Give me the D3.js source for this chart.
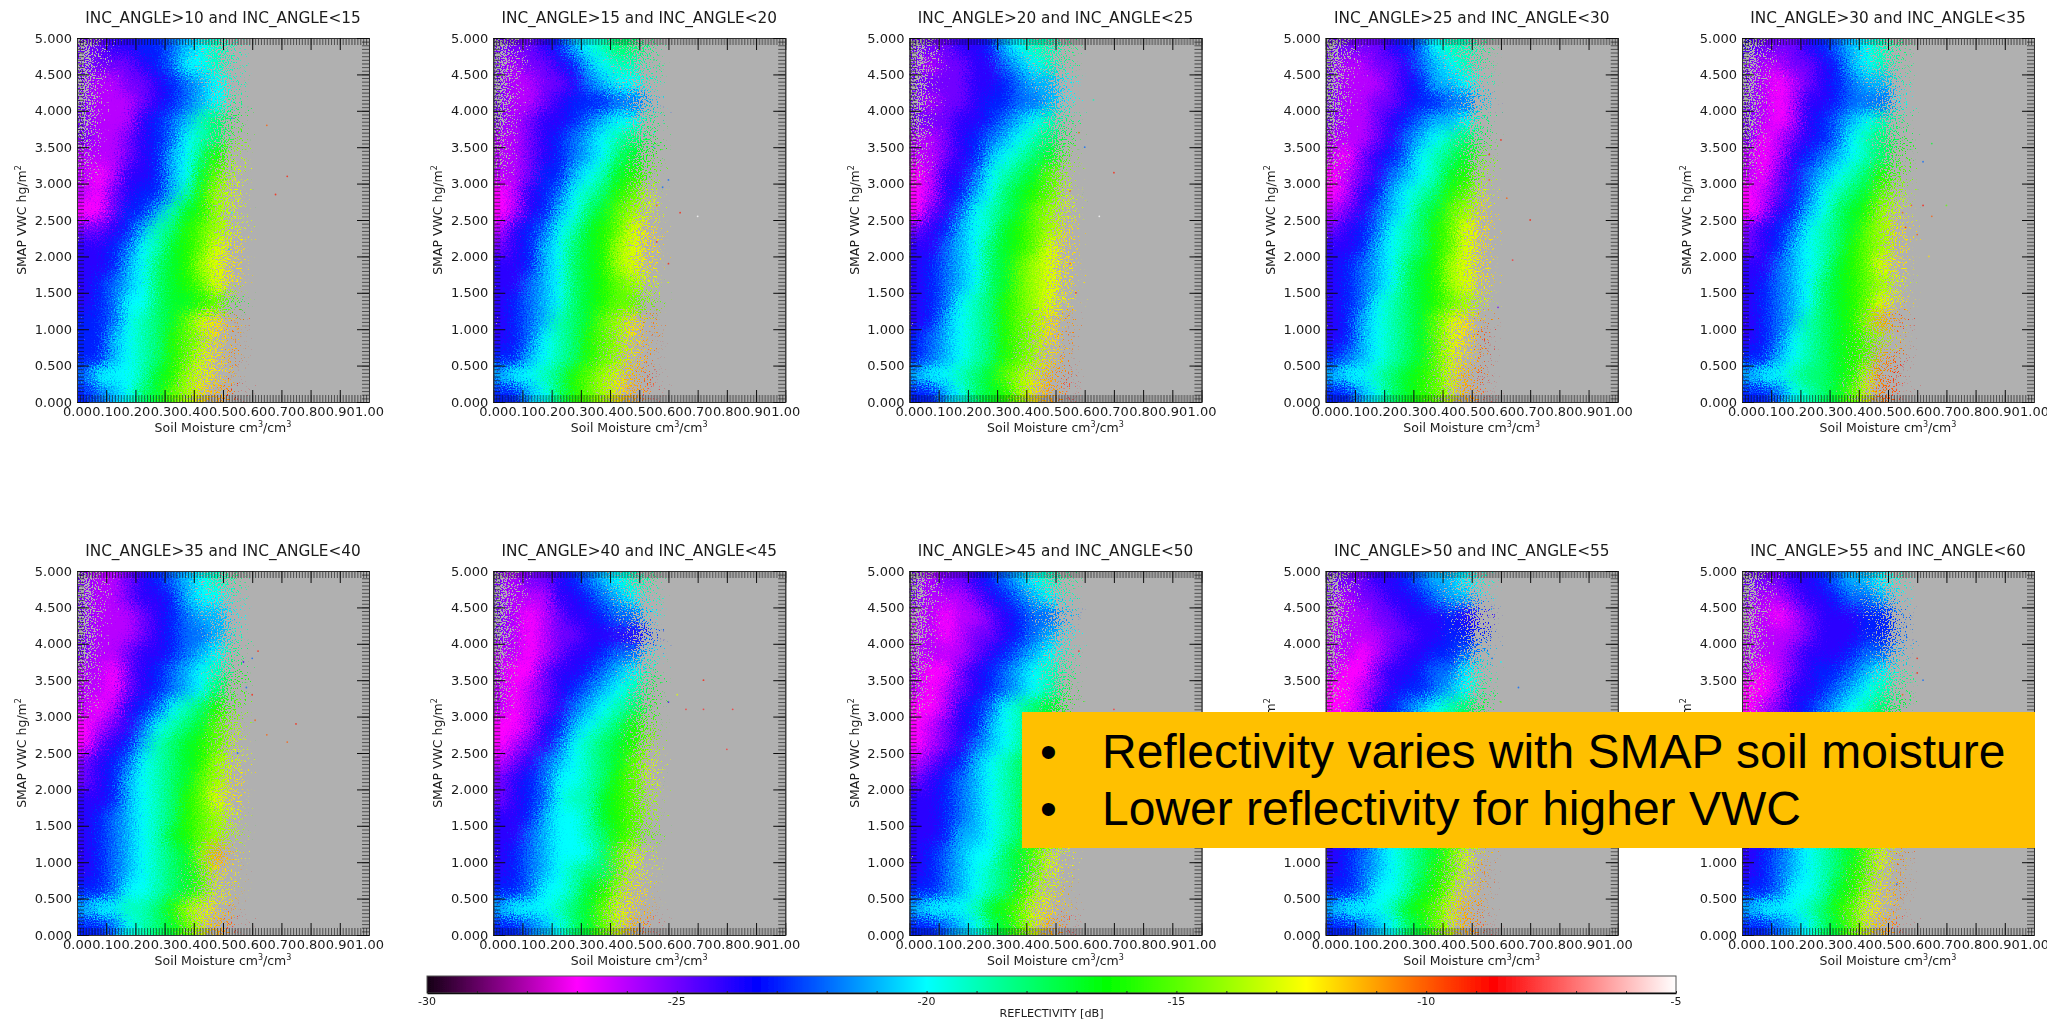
<!DOCTYPE html>
<html>
<head>
<meta charset="utf-8">
<script src="https://cdn.jsdelivr.net/npm/d3@7"></script>
<style>
  html, body { margin: 0; padding: 0; background: #fff; }
  svg { display: block; }
  text { font-family: 'DejaVu Sans', sans-serif; fill: #1a1a1a; }
</style>
</head>
<body>
<svg id="chart" width="2047" height="1020"></svg>
<script>
const panelTitles = [
  'INC_ANGLE>10 and INC_ANGLE<15', 'INC_ANGLE>15 and INC_ANGLE<20', 'INC_ANGLE>20 and INC_ANGLE<25',
  'INC_ANGLE>25 and INC_ANGLE<30', 'INC_ANGLE>30 and INC_ANGLE<35', 'INC_ANGLE>35 and INC_ANGLE<40',
  'INC_ANGLE>40 and INC_ANGLE<45', 'INC_ANGLE>45 and INC_ANGLE<50', 'INC_ANGLE>50 and INC_ANGLE<55',
  'INC_ANGLE>55 and INC_ANGLE<60',
];

// lower edge of each bin; grids below are rows = vwcBins, columns = soilBins
const soilBins = [0, 0.05, 0.1, 0.15, 0.2, 0.25, 0.3, 0.35, 0.4, 0.45, 0.5];
const vwcBins = [4.75, 4.5, 4.25, 4, 3.75, 3.5, 3.25, 3, 2.75, 2.5, 2.25, 2, 1.75, 1.5, 1.25, 1, 0.75, 0.5, 0.25, 0];
const soilTicks = [0, 0.1, 0.2, 0.3, 0.4, 0.5, 0.6, 0.7, 0.8, 0.9, 1];
const vwcTicks = [0, 0.5, 1, 1.5, 2, 2.5, 3, 3.5, 4, 4.5, 5];
const cbarTicks = [-30, -25, -20, -15, -10, -5];

// share of each bin that actually holds samples, same for all panels
const sampleDensity = [
  [.25, .8, 1, 1, 1, 1, 1, 1, .85, .65, .06],
  [.3, .85, 1, 1, 1, 1, 1, 1, .9, .75, .08],
  [.3, .9, 1, 1, 1, 1, 1, 1, .95, .85, .12],
  [.35, .95, 1, 1, 1, 1, 1, 1, 1, .9, .12],
  [.4, 1, 1, 1, 1, 1, 1, 1, 1, .85, .15],
  [.5, 1, 1, 1, 1, 1, 1, 1, 1, .85, .15],
  [.65, 1, 1, 1, 1, 1, 1, 1, 1, .9, .2],
  [.85, 1, 1, 1, 1, 1, 1, 1, 1, .9, .2],
  [1, 1, 1, 1, 1, 1, 1, 1, 1, .9, .25],
  [1, 1, 1, 1, 1, 1, 1, 1, 1, .9, .25],
  [1, 1, 1, 1, 1, 1, 1, 1, 1, .95, .25],
  [1, 1, 1, 1, 1, 1, 1, 1, 1, .95, .25],
  [1, 1, 1, 1, 1, 1, 1, 1, 1, .95, .25],
  [1, 1, 1, 1, 1, 1, 1, 1, 1, .95, .25],
  [1, 1, 1, 1, 1, 1, 1, 1, 1, .9, .15],
  [1, 1, 1, 1, 1, 1, 1, 1, .85, .55, .05],
  [1, 1, 1, 1, 1, 1, 1, .95, .7, .4, .04],
  [1, 1, 1, 1, 1, 1, 1, .95, .65, .3, .03],
  [1, 1, 1, 1, 1, 1, 1, .9, .55, .3, .02],
  [1, 1, 1, 1, 1, 1, 1, .9, .55, .3, .04],
];

const reflect10 = [
  [-25, -25, -24, -24, -23, -23, -22, -21, -20, -19, -19],
  [-25, -25, -25, -25, -24, -23, -22, -20, -20, -19, -19],
  [-25, -26, -26, -25, -25, -24, -23, -22, -21, -20, -19],
  [-25, -26, -26, -26, -25, -24, -23, -22, -21, -20, -18],
  [-25, -26, -26, -26, -24, -23, -22, -21, -19, -18, -17],
  [-25, -26, -26, -25, -24, -23, -22, -20, -19, -18, -15],
  [-26, -26, -26, -25, -24, -23, -21, -20, -18, -16, -14],
  [-26, -27, -26, -24, -24, -23, -21, -20, -17, -15, -13],
  [-26, -27, -25, -24, -23, -23, -21, -19, -16, -14, -13],
  [-27, -27, -25, -23, -23, -21, -19, -17, -16, -14, -13],
  [-25, -25, -24, -23, -21, -19, -18, -16, -15, -14, -13],
  [-24, -24, -23, -22, -20, -19, -17, -16, -15, -13, -12],
  [-24, -24, -23, -21, -20, -18, -17, -16, -14, -13, -12],
  [-24, -23, -22, -21, -20, -18, -17, -16, -15, -13, -12],
  [-24, -23, -22, -20, -20, -18, -17, -17, -16, -15, -17],
  [-23, -23, -22, -20, -19, -18, -17, -15, -13, -12, -10],
  [-23, -23, -21, -20, -19, -18, -16, -15, -14, -12, -10],
  [-23, -23, -21, -20, -19, -18, -16, -15, -13, -12, -10],
  [-22, -20, -20, -20, -19, -17, -16, -14, -13, -12, -10],
  [-23, -22, -21, -20, -18, -17, -15, -14, -12, -11, -9],
];
const reflect15 = [
  [-25, -25, -25, -24, -23, -21, -20, -19, -18, -18, -18],
  [-25, -26, -25, -25, -24, -23, -21, -20, -19, -19, -18],
  [-25, -26, -26, -25, -25, -24, -22, -21, -20, -20, -19],
  [-25, -26, -26, -25, -24, -23, -23, -23, -22, -22, -21],
  [-25, -26, -25, -24, -24, -23, -22, -21, -20, -20, -18],
  [-26, -26, -25, -24, -23, -22, -21, -20, -19, -18, -17],
  [-26, -26, -25, -24, -23, -22, -21, -20, -18, -17, -16],
  [-26, -26, -25, -23, -23, -21, -20, -19, -17, -16, -15],
  [-27, -26, -24, -23, -22, -20, -19, -18, -16, -15, -13],
  [-27, -26, -24, -23, -21, -20, -18, -17, -15, -14, -13],
  [-26, -24, -23, -22, -20, -19, -17, -16, -15, -13, -12],
  [-25, -24, -23, -21, -20, -18, -17, -16, -14, -13, -12],
  [-24, -24, -23, -21, -20, -18, -17, -16, -14, -13, -12],
  [-24, -24, -22, -21, -20, -18, -17, -16, -15, -14, -13],
  [-24, -23, -22, -21, -20, -18, -17, -16, -15, -15, -15],
  [-24, -23, -22, -21, -19, -18, -17, -15, -14, -12, -10],
  [-24, -23, -22, -20, -19, -18, -16, -15, -14, -12, -10],
  [-23, -23, -21, -20, -19, -18, -16, -15, -14, -12, -10],
  [-21, -20, -20, -19, -18, -16, -15, -14, -13, -11, -9],
  [-23, -23, -21, -20, -18, -16, -15, -14, -12, -11, -8],
];
const reflect20 = [
  [-25, -25, -25, -24, -24, -23, -21, -20, -19, -19, -18],
  [-25, -26, -25, -25, -24, -24, -22, -21, -20, -19, -18],
  [-25, -25, -25, -25, -24, -24, -23, -22, -21, -21, -20],
  [-25, -26, -25, -25, -24, -23, -23, -22, -22, -21, -20],
  [-25, -25, -25, -24, -24, -23, -22, -21, -20, -19, -18],
  [-26, -26, -25, -24, -23, -22, -21, -20, -19, -18, -17],
  [-26, -26, -25, -24, -23, -21, -20, -19, -18, -17, -15],
  [-27, -26, -24, -24, -22, -20, -19, -18, -17, -15, -14],
  [-27, -26, -24, -23, -21, -20, -18, -17, -16, -15, -13],
  [-27, -25, -24, -22, -20, -19, -18, -17, -15, -14, -13],
  [-25, -24, -23, -21, -20, -19, -17, -16, -15, -14, -12],
  [-24, -24, -22, -21, -20, -18, -17, -16, -15, -13, -12],
  [-24, -23, -22, -21, -20, -18, -17, -15, -14, -13, -12],
  [-24, -23, -22, -21, -20, -18, -17, -15, -14, -13, -12],
  [-24, -23, -22, -20, -19, -18, -16, -15, -14, -13, -12],
  [-24, -23, -21, -20, -19, -18, -16, -15, -14, -12, -10],
  [-23, -22, -21, -20, -19, -18, -16, -15, -14, -12, -10],
  [-23, -22, -21, -20, -19, -18, -16, -15, -14, -12, -10],
  [-21, -20, -20, -19, -18, -17, -15, -14, -13, -11, -9],
  [-23, -23, -21, -20, -18, -17, -16, -14, -12, -11, -8],
];
const reflect25 = [
  [-25, -25, -25, -25, -24, -23, -22, -20, -19, -19, -18],
  [-25, -26, -26, -25, -25, -24, -22, -21, -20, -19, -18],
  [-25, -26, -26, -26, -25, -24, -23, -21, -21, -20, -19],
  [-25, -26, -26, -25, -25, -24, -23, -23, -22, -22, -21],
  [-25, -26, -26, -25, -24, -23, -22, -21, -21, -20, -18],
  [-26, -26, -26, -25, -24, -22, -21, -20, -19, -18, -17],
  [-26, -27, -25, -24, -23, -22, -20, -19, -18, -17, -15],
  [-27, -26, -25, -24, -22, -21, -20, -19, -17, -16, -14],
  [-27, -26, -24, -23, -21, -20, -19, -18, -16, -15, -13],
  [-26, -25, -24, -22, -21, -20, -18, -17, -15, -14, -12],
  [-25, -24, -23, -22, -20, -19, -18, -16, -15, -13, -12],
  [-24, -24, -23, -21, -20, -19, -18, -16, -15, -13, -12],
  [-24, -23, -22, -21, -20, -18, -17, -16, -14, -13, -12],
  [-24, -23, -22, -21, -20, -18, -17, -16, -14, -13, -12],
  [-24, -23, -22, -20, -19, -18, -17, -16, -15, -14, -13],
  [-24, -23, -21, -20, -19, -18, -17, -15, -13, -12, -10],
  [-24, -23, -21, -20, -19, -18, -17, -15, -13, -12, -9],
  [-23, -22, -21, -20, -19, -18, -17, -15, -13, -12, -9],
  [-21, -20, -20, -19, -18, -17, -16, -15, -13, -11, -9],
  [-23, -23, -21, -20, -18, -17, -16, -15, -13, -11, -8],
];
const reflect30 = [
  [-24, -25, -25, -25, -24, -23, -22, -21, -20, -19, -18],
  [-25, -26, -26, -25, -25, -24, -23, -21, -20, -19, -18],
  [-25, -26, -27, -26, -25, -24, -23, -22, -21, -21, -19],
  [-25, -26, -27, -26, -24, -24, -23, -22, -22, -22, -20],
  [-25, -26, -27, -26, -24, -23, -22, -21, -20, -19, -18],
  [-25, -27, -26, -25, -24, -23, -22, -20, -19, -18, -17],
  [-26, -27, -26, -24, -23, -22, -21, -20, -19, -18, -16],
  [-26, -27, -25, -24, -22, -21, -20, -19, -18, -16, -15],
  [-27, -26, -25, -23, -22, -20, -19, -18, -17, -15, -14],
  [-27, -26, -24, -23, -21, -20, -18, -17, -16, -14, -13],
  [-25, -24, -23, -22, -20, -19, -18, -17, -15, -14, -12],
  [-25, -24, -23, -21, -20, -19, -18, -16, -15, -14, -12],
  [-24, -24, -22, -21, -20, -19, -17, -16, -15, -13, -12],
  [-24, -23, -22, -21, -20, -18, -17, -16, -15, -14, -13],
  [-24, -23, -22, -21, -20, -18, -17, -16, -15, -13, -12],
  [-24, -23, -22, -21, -19, -18, -17, -16, -14, -11, -9],
  [-24, -23, -22, -20, -19, -18, -17, -16, -15, -14, -12],
  [-23, -23, -21, -20, -19, -18, -17, -16, -15, -11, -9],
  [-21, -20, -20, -19, -18, -18, -17, -16, -13, -10, -9],
  [-23, -23, -22, -20, -19, -18, -17, -15, -13, -10, -8],
];
const reflect35 = [
  [-25, -26, -26, -25, -24, -23, -22, -21, -20, -19, -18],
  [-25, -26, -26, -25, -24, -24, -23, -21, -20, -20, -19],
  [-25, -26, -26, -26, -25, -24, -23, -22, -21, -21, -20],
  [-25, -26, -26, -26, -25, -24, -23, -22, -22, -21, -19],
  [-25, -26, -26, -25, -24, -24, -23, -22, -21, -20, -18],
  [-26, -26, -27, -25, -24, -23, -22, -21, -20, -19, -17],
  [-26, -26, -27, -25, -24, -23, -22, -21, -20, -18, -16],
  [-26, -27, -26, -24, -23, -22, -20, -19, -18, -16, -15],
  [-27, -26, -25, -24, -22, -20, -19, -18, -17, -15, -14],
  [-27, -25, -24, -23, -21, -19, -18, -17, -16, -15, -13],
  [-25, -24, -23, -22, -20, -19, -18, -17, -16, -14, -13],
  [-25, -24, -23, -21, -20, -19, -18, -17, -15, -14, -12],
  [-24, -24, -23, -21, -20, -19, -18, -16, -15, -13, -12],
  [-24, -23, -22, -21, -20, -19, -18, -16, -15, -14, -13],
  [-24, -23, -22, -21, -20, -19, -17, -16, -15, -14, -14],
  [-24, -23, -22, -21, -20, -19, -18, -17, -14, -11, -12],
  [-24, -23, -22, -21, -20, -19, -18, -17, -15, -12, -12],
  [-23, -23, -22, -20, -20, -19, -18, -17, -15, -13, -12],
  [-21, -20, -20, -19, -19, -18, -16, -14, -13, -12, -10],
  [-23, -23, -22, -20, -19, -18, -17, -15, -13, -11, -8],
];
const reflect40 = [
  [-25, -26, -25, -25, -24, -23, -22, -21, -20, -19, -18],
  [-25, -26, -26, -26, -24, -24, -23, -22, -21, -20, -19],
  [-25, -26, -27, -26, -25, -24, -24, -23, -22, -22, -20],
  [-25, -26, -27, -26, -25, -25, -24, -24, -24, -24, -23],
  [-26, -26, -27, -26, -25, -24, -24, -23, -22, -22, -20],
  [-26, -27, -27, -25, -24, -24, -23, -22, -21, -20, -18],
  [-26, -27, -26, -25, -24, -23, -22, -21, -20, -19, -17],
  [-26, -27, -26, -25, -24, -22, -21, -20, -19, -18, -16],
  [-27, -27, -26, -24, -23, -21, -20, -19, -18, -16, -15],
  [-27, -26, -25, -24, -22, -20, -19, -18, -17, -16, -14],
  [-26, -25, -24, -22, -21, -20, -19, -18, -17, -15, -13],
  [-25, -24, -23, -22, -20, -20, -19, -18, -16, -15, -13],
  [-25, -24, -23, -22, -20, -19, -19, -17, -16, -15, -14],
  [-24, -24, -23, -21, -20, -20, -19, -17, -16, -15, -14],
  [-24, -24, -22, -21, -20, -20, -19, -18, -16, -15, -15],
  [-24, -23, -22, -21, -20, -20, -20, -18, -15, -13, -13],
  [-24, -23, -22, -21, -20, -19, -18, -18, -15, -13, -13],
  [-23, -23, -22, -20, -20, -19, -17, -16, -14, -12, -12],
  [-21, -20, -20, -20, -19, -18, -17, -15, -13, -12, -11],
  [-23, -23, -22, -21, -20, -18, -17, -15, -13, -11, -8],
];
const reflect45 = [
  [-25, -26, -25, -25, -24, -23, -22, -21, -20, -19, -18],
  [-25, -26, -26, -26, -25, -24, -23, -22, -21, -20, -19],
  [-26, -26, -27, -26, -26, -25, -24, -23, -22, -22, -21],
  [-26, -26, -27, -26, -25, -25, -24, -23, -22, -21, -20],
  [-26, -26, -26, -26, -25, -24, -23, -22, -21, -20, -19],
  [-26, -27, -27, -25, -24, -23, -22, -21, -20, -19, -18],
  [-26, -27, -26, -25, -24, -23, -22, -21, -20, -19, -17],
  [-27, -27, -26, -24, -23, -22, -20, -19, -18, -17, -16],
  [-27, -26, -25, -24, -23, -21, -20, -19, -18, -17, -16],
  [-27, -26, -25, -24, -22, -21, -20, -19, -18, -17, -16],
  [-26, -25, -24, -23, -21, -20, -19, -18, -17, -16, -15],
  [-25, -24, -23, -22, -21, -20, -19, -18, -17, -16, -15],
  [-24, -24, -23, -22, -21, -20, -19, -18, -16, -15, -14],
  [-24, -24, -23, -22, -21, -20, -19, -18, -16, -15, -14],
  [-24, -24, -23, -21, -21, -20, -19, -18, -16, -15, -14],
  [-24, -23, -22, -21, -20, -20, -18, -17, -15, -13, -12],
  [-24, -23, -22, -21, -20, -19, -18, -17, -15, -13, -12],
  [-23, -23, -22, -21, -20, -19, -18, -16, -14, -13, -11],
  [-21, -20, -20, -20, -19, -17, -16, -15, -13, -12, -11],
  [-23, -23, -22, -21, -20, -18, -17, -15, -13, -11, -8],
];
const reflect50 = [
  [-25, -25, -25, -24, -24, -23, -22, -21, -21, -20, -19],
  [-25, -26, -25, -25, -24, -24, -23, -22, -21, -21, -20],
  [-26, -26, -26, -25, -25, -24, -24, -24, -23, -24, -24],
  [-26, -26, -26, -26, -25, -25, -24, -24, -23, -23, -23],
  [-26, -26, -27, -26, -25, -24, -24, -23, -23, -22, -21],
  [-26, -27, -27, -25, -24, -24, -23, -22, -22, -20, -19],
  [-27, -27, -26, -25, -24, -23, -23, -22, -21, -20, -18],
  [-27, -27, -26, -24, -23, -22, -21, -20, -19, -18, -17],
  [-27, -26, -25, -24, -23, -22, -20, -19, -18, -17, -16],
  [-26, -26, -25, -24, -22, -21, -20, -19, -17, -16, -15],
  [-26, -25, -24, -23, -21, -20, -19, -18, -17, -16, -15],
  [-25, -24, -23, -22, -21, -20, -19, -18, -16, -15, -14],
  [-24, -24, -23, -22, -21, -20, -19, -17, -16, -15, -14],
  [-24, -24, -23, -22, -21, -20, -19, -17, -16, -15, -14],
  [-24, -24, -23, -21, -20, -19, -18, -17, -15, -14, -14],
  [-24, -23, -22, -21, -20, -19, -18, -17, -15, -13, -11],
  [-24, -23, -22, -21, -20, -19, -18, -16, -15, -13, -10],
  [-23, -23, -22, -20, -20, -19, -17, -16, -14, -12, -10],
  [-21, -20, -20, -20, -19, -17, -16, -15, -13, -11, -10],
  [-23, -23, -22, -21, -20, -18, -17, -15, -13, -11, -8],
];
const reflect55 = [
  [-25, -25, -25, -24, -24, -23, -22, -21, -21, -20, -19],
  [-25, -26, -26, -25, -24, -24, -23, -22, -22, -21, -20],
  [-26, -26, -27, -26, -25, -24, -24, -24, -23, -23, -22],
  [-26, -26, -26, -26, -25, -24, -24, -24, -23, -23, -22],
  [-26, -26, -26, -25, -24, -24, -24, -23, -22, -22, -21],
  [-26, -27, -26, -25, -24, -23, -23, -22, -21, -20, -19],
  [-27, -27, -26, -24, -24, -23, -22, -21, -20, -19, -18],
  [-27, -26, -25, -24, -23, -22, -21, -20, -19, -18, -17],
  [-27, -26, -25, -24, -23, -21, -20, -19, -18, -17, -16],
  [-26, -26, -25, -23, -22, -21, -20, -19, -17, -16, -15],
  [-26, -25, -24, -23, -21, -20, -19, -18, -17, -16, -15],
  [-25, -24, -23, -22, -21, -20, -19, -18, -16, -15, -14],
  [-24, -24, -23, -22, -21, -20, -19, -17, -16, -15, -14],
  [-24, -24, -23, -22, -20, -20, -19, -17, -16, -15, -14],
  [-24, -24, -23, -21, -20, -19, -18, -17, -15, -14, -13],
  [-24, -23, -22, -21, -20, -19, -18, -17, -15, -13, -10],
  [-24, -23, -22, -21, -20, -19, -18, -16, -15, -13, -10],
  [-23, -23, -22, -20, -20, -19, -17, -16, -14, -12, -10],
  [-21, -20, -20, -20, -19, -18, -16, -15, -13, -12, -10],
  [-23, -23, -22, -21, -20, -18, -17, -15, -13, -11, -8],
];
const reflectGrids = [reflect10, reflect15, reflect20, reflect25, reflect30, reflect35, reflect40, reflect45, reflect50, reflect55];

// lone samples out past the main cloud: soil moisture, vwc, dB
const strayPoints = [
  [[0.53, 3.9, -22], [0.56, 3.75, -15], [0.65, 3.8, -10], [0.53, 3.2, -15], [0.72, 3.1, -9], [0.68, 2.85, -9], [0.52, 2.1, -21], [0.55, 1, -11], [0.53, 2.6, -20]],
  [[0.55, 4.7, -18], [0.55, 3.5, -21], [0.58, 2.95, -22], [0.6, 3.05, -22], [0.56, 2.7, -10], [0.64, 2.6, -9], [0.7, 2.55, -5], [0.6, 1.9, -9], [0.56, 2.2, -9], [0.55, 3.7, -20]],
  [[0.63, 4.15, -19], [0.58, 3.7, -10], [0.6, 3.5, -22], [0.65, 2.55, -5], [0.55, 2.9, -10], [0.7, 3.15, -9], [0.57, 1.5, -9], [0.55, 1.9, -10]],
  [[0.53, 4.3, -20], [0.6, 3.6, -9], [0.56, 3.05, -10], [0.62, 2.8, -10], [0.7, 2.5, -9], [0.64, 1.95, -8], [0.59, 1.3, -25], [0.56, 3.4, -9]],
  [[0.55, 2.6, -10], [0.58, 2.7, -10], [0.62, 2.7, -9], [0.65, 2.55, -10], [0.6, 2.3, -10], [0.7, 2.7, -15], [0.62, 3.3, -22], [0.65, 3.55, -17], [0.64, 2, -12], [0.56, 2.4, -9]],
  [[0.57, 3.75, -24], [0.6, 3.8, -22], [0.62, 3.9, -9], [0.6, 3.3, -9], [0.61, 2.95, -10], [0.75, 2.9, -9], [0.65, 2.75, -10], [0.55, 2.5, -22], [0.72, 2.65, -10], [0.58, 3.4, -22]],
  [[0.6, 3.2, -24], [0.66, 3.1, -8], [0.72, 3.1, -8], [0.82, 3.1, -8], [0.72, 3.5, -9], [0.55, 3.7, -20], [0.8, 2.55, -8], [0.63, 3.3, -13]],
  [[0.55, 4.6, -20], [0.58, 3.9, -9], [0.7, 3.1, -8], [0.72, 3.05, -8], [0.6, 2.9, -18]],
  [[0.57, 3.8, -22], [0.6, 3.75, -20], [0.66, 3.4, -22], [0.6, 3.2, -15]],
  [[0.6, 3.8, -9], [0.62, 3.5, -22], [0.6, 3.6, -9], [0.55, 3.3, -10], [0.58, 2.8, -9], [0.53, 0.7, -22]],
];

const colorStops = [
  { db: -30, color: '#140014' },
  { db: -27, color: '#ff00ff' },
  { db: -23.4, color: '#0000ff' },
  { db: -20, color: '#00ffff' },
  { db: -16.4, color: '#00ff00' },
  { db: -12.4, color: '#ffff00' },
  { db: -8.65, color: '#ff0000' },
  { db: -5, color: '#ffffff' },
];

const plotWidth = 292;
const plotHeight = 364;
const colSpacing = 416.25;
const rowTops = [38, 571];
const plotLeft = 77;

const svg = d3.select('#chart');
const defs = svg.append('defs');

const color = d3
  .scaleLinear()
  .domain(colorStops.map((d) => d.db))
  .range(colorStops.map((d) => d.color))
  .clamp(true);

// soft blocks -> grain -> sparse bins break up into salt and pepper
const grain = defs
  .append('filter')
  .attr('id', 'grain')
  .attr('color-interpolation-filters', 'sRGB');
grain.append('feGaussianBlur').attr('in', 'SourceGraphic').attr('stdDeviation', 5.5).attr('result', 'smooth');
grain.append('feTurbulence')
  .attr('type', 'fractalNoise')
  .attr('baseFrequency', 0.7)
  .attr('numOctaves', 2)
  .attr('seed', 4)
  .attr('result', 'noise');
grain.append('feDisplacementMap')
  .attr('in', 'smooth')
  .attr('in2', 'noise')
  .attr('scale', 36)
  .attr('xChannelSelector', 'R')
  .attr('yChannelSelector', 'G')
  .attr('result', 'mixed');
const opaque = grain.append('feComponentTransfer').attr('in', 'mixed').attr('result', 'opaque');
opaque.append('feFuncA').attr('type', 'linear').attr('slope', 30);
grain.append('feColorMatrix')
  .attr('in', 'mixed')
  .attr('type', 'matrix')
  .attr('values', '0 0 0 0 0  0 0 0 0 0  0 0 0 0 0  0 0 0 1 0')
  .attr('result', 'cover');
grain.append('feColorMatrix')
  .attr('in', 'noise')
  .attr('type', 'matrix')
  .attr('values', '0 0 0 0 0  0 0 0 0 0  0 0 0 0 0  0 0 0 3 -1')
  .attr('result', 'pepper');
grain.append('feComposite')
  .attr('in', 'cover')
  .attr('in2', 'pepper')
  .attr('operator', 'arithmetic')
  .attr('k2', 0.5)
  .attr('k3', 0.5)
  .attr('result', 'sum');
const mask = grain.append('feComponentTransfer').attr('in', 'sum').attr('result', 'mask');
mask.append('feFuncA').attr('type', 'linear').attr('slope', 30).attr('intercept', -14);
grain.append('feComposite').attr('in', 'opaque').attr('in2', 'mask').attr('operator', 'in').attr('result', 'speckle');
grain.append('feGaussianBlur').attr('in', 'speckle').attr('stdDeviation', 0.6);

// the reference is a resampled screenshot, everything is slightly soft
defs.append('filter')
  .attr('id', 'soft')
  .attr('x', '-5%')
  .attr('y', '-5%')
  .attr('width', '110%')
  .attr('height', '110%')
  .append('feGaussianBlur')
  .attr('stdDeviation', 0.4);

const x = d3.scaleLinear().domain([0, 1]).range([0, plotWidth]);
const y = d3.scaleLinear().domain([0, 5]).range([plotHeight, 0]);
const binW = x(soilBins[1]) - x(soilBins[0]);
const binH = y(vwcBins[1]) - y(vwcBins[0]);

const drawAxes = (g) => {
  const minorSoil = d3.range(0, 1.001, 0.01);
  const minorVwc = d3.range(0, 5.01, 0.05);
  const none = () => '';

  const styleTicks = (sel, opacity) => {
    sel.selectAll('.tick line').attr('stroke', '#111').attr('stroke-opacity', opacity);
    sel.selectAll('.domain').attr('stroke', '#333');
  };

  // minor combs on all four sides
  g.append('g').attr('transform', `translate(0,${plotHeight})`)
    .call(d3.axisBottom(x).tickValues(minorSoil).tickSize(-7).tickSizeOuter(0).tickFormat(none))
    .call(styleTicks, 0.62);
  g.append('g')
    .call(d3.axisTop(x).tickValues(minorSoil).tickSize(-7).tickSizeOuter(0).tickFormat(none))
    .call(styleTicks, 0.62);
  g.append('g')
    .call(d3.axisLeft(y).tickValues(minorVwc).tickSize(-7).tickSizeOuter(0).tickFormat(none))
    .call(styleTicks, 0.62);
  g.append('g').attr('transform', `translate(${plotWidth},0)`)
    .call(d3.axisRight(y).tickValues(minorVwc).tickSize(-7).tickSizeOuter(0).tickFormat(none))
    .call(styleTicks, 0.62);

  // majors, with labels on the bottom and left
  g.append('g').attr('transform', `translate(0,${plotHeight})`)
    .call(d3.axisBottom(x).tickValues(soilTicks).tickSize(-12).tickSizeOuter(0).tickPadding(5).tickFormat(d3.format('.2f')))
    .call(styleTicks, 1)
    .call((sel) => sel.selectAll('text').attr('font-size', 13).style('font-family', "'DejaVu Sans', sans-serif"));
  g.append('g')
    .call(d3.axisTop(x).tickValues(soilTicks).tickSize(-12).tickSizeOuter(0).tickFormat(none))
    .call(styleTicks, 1);
  g.append('g')
    .call(d3.axisLeft(y).tickValues(vwcTicks).tickSize(-12).tickSizeOuter(0).tickPadding(5).tickFormat(d3.format('.3f')))
    .call(styleTicks, 1)
    .call((sel) => sel.selectAll('text').attr('font-size', 13).style('font-family', "'DejaVu Sans', sans-serif"));
  g.append('g').attr('transform', `translate(${plotWidth},0)`)
    .call(d3.axisRight(y).tickValues(vwcTicks).tickSize(-12).tickSizeOuter(0).tickFormat(none))
    .call(styleTicks, 1);

  // axis titles
  g.append('text')
    .attr('x', plotWidth / 2)
    .attr('y', plotHeight + 30)
    .attr('text-anchor', 'middle')
    .attr('font-size', 12.5)
    .call((t) => {
      t.append('tspan').text('Soil Moisture cm');
      t.append('tspan').attr('dy', -5).attr('font-size', 8).text('3');
      t.append('tspan').attr('dy', 5).text('/cm');
      t.append('tspan').attr('dy', -5).attr('font-size', 8).text('3');
    });
  g.append('text')
    .attr('transform', `translate(-51,${plotHeight / 2}) rotate(-90)`)
    .attr('text-anchor', 'middle')
    .attr('font-size', 12.5)
    .call((t) => {
      t.append('tspan').text('SMAP VWC hg/m');
      t.append('tspan').attr('dy', -5).attr('font-size', 8).text('2');
    });
};

panelTitles.forEach((title, i) => {
  const col = i % 5;
  const row = Math.floor(i / 5);
  const panel = svg
    .append('g')
    .attr('transform', `translate(${plotLeft + col * colSpacing},${rowTops[row]})`);

  defs.append('clipPath')
    .attr('id', `clip-${i}`)
    .append('rect')
    .attr('width', plotWidth)
    .attr('height', plotHeight);

  const plot = panel.append('g').attr('clip-path', `url(#clip-${i})`);
  plot.append('rect')
    .attr('width', plotWidth)
    .attr('height', plotHeight)
    .attr('fill', '#b0b0b0');

  const cells = reflectGrids[i].flatMap((values, r) =>
    values.map((db, c) => ({ db, c, r, soil: soilBins[c], vwc: vwcBins[r], density: sampleDensity[r][c] }))
  );

  // edge bins are pushed past the frame so the blur doesn't fade them out
  const overscan = 14;
  plot.append('g')
    .attr('filter', 'url(#grain)')
    .selectAll('rect')
    .data(cells)
    .join('rect')
    .attr('x', (d) => x(d.soil) - (d.c === 0 ? overscan : 0))
    .attr('y', (d) => y(d.vwc) - binH - (d.r === 0 ? overscan : 0))
    .attr('width', (d) => binW + (d.c === 0 ? overscan : 0))
    .attr('height', (d) => binH + (d.r === 0 || d.r === vwcBins.length - 1 ? overscan : 0))
    .attr('fill', (d) => color(d.db))
    .attr('fill-opacity', (d) => d.density)
    .attr('shape-rendering', 'crispEdges');

  plot.append('g')
    .attr('filter', 'url(#soft)')
    .selectAll('circle')
    .data(strayPoints[i])
    .join('circle')
    .attr('cx', (d) => x(d[0]))
    .attr('cy', (d) => y(d[1]))
    .attr('r', 0.9)
    .attr('fill', (d) => color(d[2]))
    .attr('fill-opacity', 0.75);

  const frame = panel.append('g').attr('filter', 'url(#soft)');
  drawAxes(frame);
  frame.append('text')
    .attr('x', plotWidth / 2)
    .attr('y', -15)
    .attr('text-anchor', 'middle')
    .attr('font-size', 15.3)
    .text(title);
});

// colour bar
const cbarX = d3.scaleLinear().domain([-30, -5]).range([427, 1676]);
const cbarTop = 976;
const cbarHeight = 17;

const gradient = defs.append('linearGradient').attr('id', 'reflect-ramp');
gradient.selectAll('stop')
  .data(colorStops)
  .join('stop')
  .attr('offset', (d) => (d.db + 30) / 25)
  .attr('stop-color', (d) => d.color);

const cbar = svg.append('g').attr('filter', 'url(#soft)');
cbar.append('rect')
  .attr('x', cbarX(-30))
  .attr('y', cbarTop)
  .attr('width', cbarX(-5) - cbarX(-30))
  .attr('height', cbarHeight)
  .attr('fill', 'url(#reflect-ramp)')
  .attr('stroke', '#555')
  .attr('stroke-width', 1);
cbar.append('g')
  .attr('transform', `translate(0,${cbarTop + cbarHeight})`)
  .call(d3.axisBottom(cbarX).tickValues(d3.range(-30, -4, 1)).tickSize(-2).tickSizeOuter(0).tickFormat(() => ''))
  .call((sel) => sel.selectAll('line').attr('stroke', '#222'))
  .call((sel) => sel.selectAll('.domain').attr('stroke', '#111').attr('stroke-width', 1.5));
cbar.append('g')
  .selectAll('text')
  .data(cbarTicks)
  .join('text')
  .attr('x', (d) => cbarX(d))
  .attr('y', 1005)
  .attr('text-anchor', 'middle')
  .attr('font-size', 11)
  .text((d) => d);
cbar.append('text')
  .attr('x', (cbarX(-30) + cbarX(-5)) / 2)
  .attr('y', 1017)
  .attr('text-anchor', 'middle')
  .attr('font-size', 11.2)
  .text('REFLECTIVITY [dB]');

// call-out box laid over the lower right panels
const callout = svg.append('g');
callout.append('rect')
  .attr('x', 1022)
  .attr('y', 712)
  .attr('width', 1013)
  .attr('height', 136)
  .attr('fill', '#ffc000');
const calloutLines = ['Reflectivity varies with SMAP soil moisture', 'Lower reflectivity for higher VWC'];
calloutLines.forEach((line, i) => {
  const baseline = 768 + i * 57;
  callout.append('text')
    .attr('x', 1040)
    .attr('y', baseline)
    .attr('font-size', 48)
    .style('font-family', "'Liberation Sans', Arial, sans-serif")
    .style('fill', '#000')
    .text('•');
  callout.append('text')
    .attr('x', 1102)
    .attr('y', baseline)
    .attr('font-size', 48)
    .style('font-family', "'Liberation Sans', Arial, sans-serif")
    .style('fill', '#000')
    .text(line);
});
</script>
</body>
</html>
